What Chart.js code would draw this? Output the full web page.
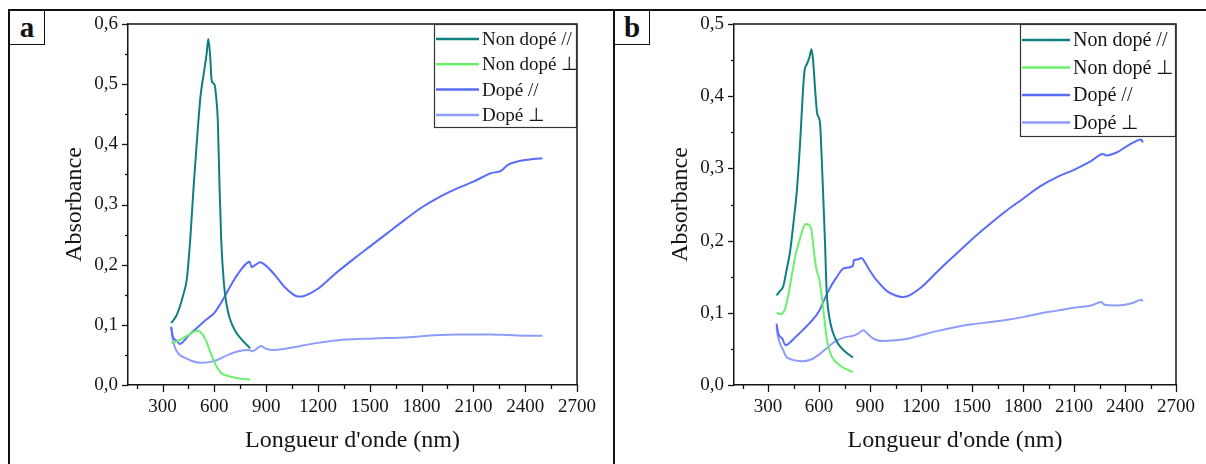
<!DOCTYPE html>
<html>
<head>
<meta charset="utf-8">
<script src="https://cdn.jsdelivr.net/npm/chart.js@4.4.0/dist/chart.umd.min.js"></script>
<style>
  body { margin: 0; background: #fff; width: 1206px; height: 464px; overflow: hidden; position: relative; }
  canvas { position: absolute; top: 0; }
  #chart-a { left: 0; }
  #chart-b { left: 614px; }
  .rule { position: absolute; background: #111; z-index: 2; }
  .tag {
    position: absolute; top: 10px; height: 35px; box-sizing: border-box; z-index: 3;
    border: 1.5px solid #111; background: #fff;
    font: bold 29px "Liberation Serif", serif; color: #111;
    display: flex; align-items: center; justify-content: center;
  }
</style>
</head>
<body>
<canvas id="chart-a" width="613" height="464"></canvas>
<canvas id="chart-b" width="592" height="464"></canvas>
<div class="rule" style="left:8px;top:9px;width:1198px;height:2px"></div>
<div class="rule" style="left:8px;top:9px;width:2px;height:455px"></div>
<div class="rule" style="left:613px;top:9px;width:2px;height:455px"></div>
<div class="tag" style="left:9px;width:36px">a</div>
<div class="tag" style="left:614px;width:36px">b</div>
<script>
// series labels and colours
const seriesLabels = ['Non dopé //', 'Non dopé ⊥', 'Dopé //', 'Dopé ⊥'];
const seriesColors = ['#0f7f7f', '#6cf06c', '#5a6cf8', '#8f9cff'];

// tick labels
const xMajor = [300, 600, 900, 1200, 1500, 1800, 2100, 2400, 2700];
const yMajorA = [0, 0.1, 0.2, 0.3, 0.4, 0.5, 0.6];
const yMajorB = [0, 0.1, 0.2, 0.3, 0.4, 0.5];

// panel a : Non dopé //
const aNdParX = [350, 380, 400, 420, 440, 460, 480, 500, 520, 540, 555, 565, 575, 585, 600, 610, 620, 630, 640, 655, 670, 690, 720, 760, 807];
const aNdParY = [0.103, 0.115, 0.13, 0.15, 0.175, 0.24, 0.33, 0.41, 0.48, 0.52, 0.55, 0.575, 0.55, 0.505, 0.50, 0.48, 0.44, 0.33, 0.24, 0.17, 0.135, 0.11, 0.09, 0.075, 0.061];
// panel a : Non dopé ⊥
const aNdPerpX = [350, 380, 420, 460, 500, 520, 550, 580, 610, 640, 680, 740, 807];
const aNdPerpY = [0.07, 0.072, 0.078, 0.085, 0.09, 0.088, 0.075, 0.052, 0.032, 0.02, 0.015, 0.011, 0.009];
// panel a : Dopé //
const aDParX = [350, 360, 375, 385, 400, 420, 450, 500, 550, 600, 650, 700, 750, 790, 805, 815, 840, 865, 900, 950, 1000, 1050, 1090, 1120, 1200, 1300, 1400, 1500, 1600, 1700, 1800, 1900, 2000, 2100, 2170, 2200, 2260, 2300, 2350, 2400, 2500];
const aDParY = [0.097, 0.08, 0.075, 0.073, 0.068, 0.072, 0.082, 0.095, 0.108, 0.12, 0.142, 0.168, 0.19, 0.203, 0.205, 0.196, 0.2, 0.204, 0.198, 0.183, 0.165, 0.152, 0.147, 0.148, 0.16, 0.185, 0.208, 0.23, 0.252, 0.274, 0.295, 0.312, 0.326, 0.338, 0.348, 0.352, 0.356, 0.366, 0.371, 0.374, 0.377];
// panel a : Dopé ⊥
const aDPerpX = [350, 360, 375, 400, 430, 470, 520, 570, 620, 680, 740, 800, 820, 845, 870, 900, 950, 1000, 1100, 1200, 1300, 1400, 1500, 1600, 1700, 1800, 1900, 2000, 2100, 2200, 2300, 2400, 2500];
const aDPerpY = [0.095, 0.075, 0.06, 0.05, 0.045, 0.04, 0.037, 0.038, 0.042, 0.05, 0.056, 0.058, 0.056, 0.06, 0.065, 0.06, 0.058, 0.06, 0.065, 0.07, 0.074, 0.076, 0.077, 0.078, 0.079, 0.081, 0.083, 0.084, 0.084, 0.084, 0.083, 0.082, 0.082];

// panel b : Non dopé //
const bNdParX = [350, 370, 390, 410, 430, 450, 470, 490, 505, 515, 530, 545, 556, 565, 580, 590, 605, 615, 625, 635, 645, 660, 680, 710, 750, 800];
const bNdParY = [0.124, 0.13, 0.137, 0.16, 0.185, 0.225, 0.27, 0.34, 0.405, 0.435, 0.445, 0.455, 0.465, 0.45, 0.4, 0.375, 0.365, 0.32, 0.26, 0.2, 0.13, 0.095, 0.074, 0.058, 0.047, 0.038];
// panel b : Non dopé ⊥
const bNdPerpX = [350, 375, 400, 420, 440, 460, 480, 500, 520, 540, 555, 570, 585, 600, 615, 630, 645, 665, 690, 730, 770, 800];
const bNdPerpY = [0.1, 0.098, 0.105, 0.125, 0.152, 0.178, 0.196, 0.212, 0.223, 0.222, 0.215, 0.185, 0.16, 0.148, 0.125, 0.095, 0.065, 0.045, 0.034, 0.026, 0.021, 0.018];
// panel b : Dopé //
const bDParX = [350, 360, 375, 385, 395, 405, 430, 460, 500, 550, 600, 650, 700, 750, 800, 805, 830, 850, 870, 900, 950, 1000, 1050, 1090, 1120, 1200, 1300, 1400, 1500, 1600, 1700, 1800, 1900, 2000, 2100, 2200, 2270, 2290, 2350, 2400, 2450, 2495, 2505];
const bDParY = [0.085, 0.072, 0.066, 0.064, 0.058, 0.055, 0.059, 0.066, 0.075, 0.087, 0.102, 0.128, 0.148, 0.162, 0.165, 0.173, 0.174, 0.176, 0.17, 0.158, 0.142, 0.13, 0.124, 0.122, 0.123, 0.135, 0.158, 0.18, 0.202, 0.222, 0.241, 0.258, 0.275, 0.288, 0.298, 0.31, 0.32, 0.318, 0.322, 0.329, 0.336, 0.34, 0.336];
// panel b : Dopé ⊥
const bDPerpX = [350, 360, 375, 390, 405, 430, 460, 500, 550, 600, 650, 700, 750, 800, 830, 860, 890, 930, 980, 1050, 1120, 1200, 1300, 1400, 1500, 1600, 1700, 1800, 1900, 2000, 2100, 2200, 2260, 2280, 2350, 2400, 2450, 2495, 2505];
const bDPerpY = [0.08, 0.065, 0.055, 0.048, 0.04, 0.036, 0.034, 0.033, 0.035, 0.042, 0.052, 0.061, 0.066, 0.068, 0.071, 0.076, 0.07, 0.063, 0.061, 0.062, 0.064, 0.069, 0.075, 0.08, 0.084, 0.087, 0.09, 0.094, 0.099, 0.103, 0.107, 0.11, 0.115, 0.111, 0.11, 0.111, 0.114, 0.118, 0.116];

const FONT = '"Liberation Serif", "Times New Roman", serif';
const INK = '#151515';

// major ticks plus one minor tick half way between
function withMinor(majors) {
  const step = majors[1] - majors[0];
  const out = [Math.round((majors[0] - step / 2) * 1000) / 1000];
  majors.forEach((v, i) => {
    out.push(v);
    if (i < majors.length - 1) out.push(Math.round((v + step / 2) * 1000) / 1000);
  });
  return out.filter(v => v >= 0);
}

function isMajor(list, v) {
  return list.some(m => Math.abs(m - v) < 1e-9);
}

const decor = {
  id: 'decor',
  afterDatasetsDraw(chart, args, opts) {
    const ctx = chart.ctx;
    const ca = chart.chartArea;
    // frame top / right
    ctx.save();
    ctx.strokeStyle = INK;
    ctx.lineWidth = 1.5;
    ctx.beginPath();
    ctx.moveTo(ca.left, ca.top);
    ctx.lineTo(ca.right, ca.top);
    ctx.lineTo(ca.right, ca.bottom);
    ctx.stroke();

    // tick marks, major and minor
    const xs = chart.scales.x, ys = chart.scales.y;
    ctx.lineWidth = 1.3;
    xs.ticks.forEach(t => {
      const px = Math.round(xs.getPixelForValue(t.value)) + 0.5;
      const len = isMajor(xMajor, t.value) ? 7 : 4;
      ctx.beginPath();
      ctx.moveTo(px, ca.bottom);
      ctx.lineTo(px, ca.bottom + len);
      ctx.stroke();
    });
    ys.ticks.forEach(t => {
      const py = Math.round(ys.getPixelForValue(t.value)) + 0.5;
      const len = isMajor(opts.yMajor, t.value) ? 6 : 3;
      ctx.beginPath();
      ctx.moveTo(ca.left, py);
      ctx.lineTo(ca.left - len, py);
      ctx.stroke();
    });

    // legend box in the top right corner
    const L = opts.legend;
    const bx = ca.right - L.w, by = ca.top;
    ctx.fillStyle = '#fff';
    ctx.fillRect(bx, by, L.w, L.h);
    ctx.lineWidth = 1.2;
    ctx.strokeStyle = '#333';
    ctx.strokeRect(bx + 0.5, by + 0.5, L.w - 1, L.h - 1);
    ctx.font = L.font + 'px ' + FONT;
    ctx.textBaseline = 'middle';
    chart.data.datasets.forEach((d, i) => {
      const ry = by + L.first + i * L.gap;
      ctx.strokeStyle = d.borderColor;
      ctx.lineWidth = 2.5;
      ctx.beginPath();
      ctx.moveTo(bx + 2, ry);
      ctx.lineTo(bx + 2 + L.line, ry);
      ctx.stroke();
      ctx.fillStyle = INK;
      ctx.fillText(d.label, bx + L.line + 5, ry + 1);
    });
    ctx.restore();
  }
};

function makeChart(id, series, yMax, yMajor, pad, legend) {
  const xTicks = withMinor(xMajor);
  const yTicks = withMinor(yMajor);
  return new Chart(document.getElementById(id), {
    type: 'line',
    data: {
      datasets: series.map((s, i) => ({
        label: seriesLabels[i],
        data: s[0].map((x, k) => ({ x: x, y: s[1][k] })),
        borderColor: seriesColors[i],
        borderWidth: 2,
        pointRadius: 0,
        fill: false,
        cubicInterpolationMode: 'monotone'
      }))
    },
    options: {
      responsive: false,
      animation: false,
      devicePixelRatio: 1,
      layout: { padding: pad },
      plugins: {
        legend: { display: false },
        tooltip: { enabled: false },
        decor: { yMajor: yMajor, legend: legend }
      },
      scales: {
        x: {
          type: 'linear', min: 100, max: 2700,
          afterBuildTicks: sc => { sc.ticks = xTicks.map(v => ({ value: v })); },
          afterFit: sc => { sc.height = 70; },
          grid: { display: false, drawTicks: false },
          border: { display: true, color: INK, width: 1.5 },
          ticks: {
            autoSkip: false, maxRotation: 0, padding: 11, color: INK,
            font: { family: FONT, size: 19 },
            callback: v => isMajor(xMajor, v) ? String(v) : ''
          },
          title: { display: true, text: "Longueur d'onde (nm)", color: INK, padding: 0, font: { family: FONT, size: 24 } }
        },
        y: {
          min: 0, max: yMax,
          afterBuildTicks: sc => { sc.ticks = yTicks.map(v => ({ value: v })); },
          afterFit: sc => { sc.width = 68; },
          grid: { display: false, drawTicks: false },
          border: { display: true, color: INK, width: 1.5 },
          ticks: {
            autoSkip: false, padding: 10, color: INK,
            font: { family: FONT, size: 19 },
            callback: v => isMajor(yMajor, v) ? v.toFixed(1).replace('.', ',') : ''
          },
          title: { display: true, text: 'Absorbance', color: INK, padding: 0, font: { family: FONT, size: 24 } }
        }
      }
    },
    plugins: [decor]
  });
}

makeChart('chart-a',
  [[aNdParX, aNdParY], [aNdPerpX, aNdPerpY], [aDParX, aDParY], [aDPerpX, aDPerpY]],
  0.6, yMajorA,
  { left: 60, right: 36, top: 24, bottom: 9 },
  { w: 143, h: 104, first: 15, gap: 25.3, line: 43, font: 19 });

makeChart('chart-b',
  [[bNdParX, bNdParY], [bNdPerpX, bNdPerpY], [bDParX, bDParY], [bDPerpX, bDPerpY]],
  0.5, yMajorB,
  { left: 52, right: 24, top: 24, bottom: 9 },
  { w: 156, h: 113, first: 16, gap: 27.5, line: 48, font: 20 });
</script>
</body>
</html>
